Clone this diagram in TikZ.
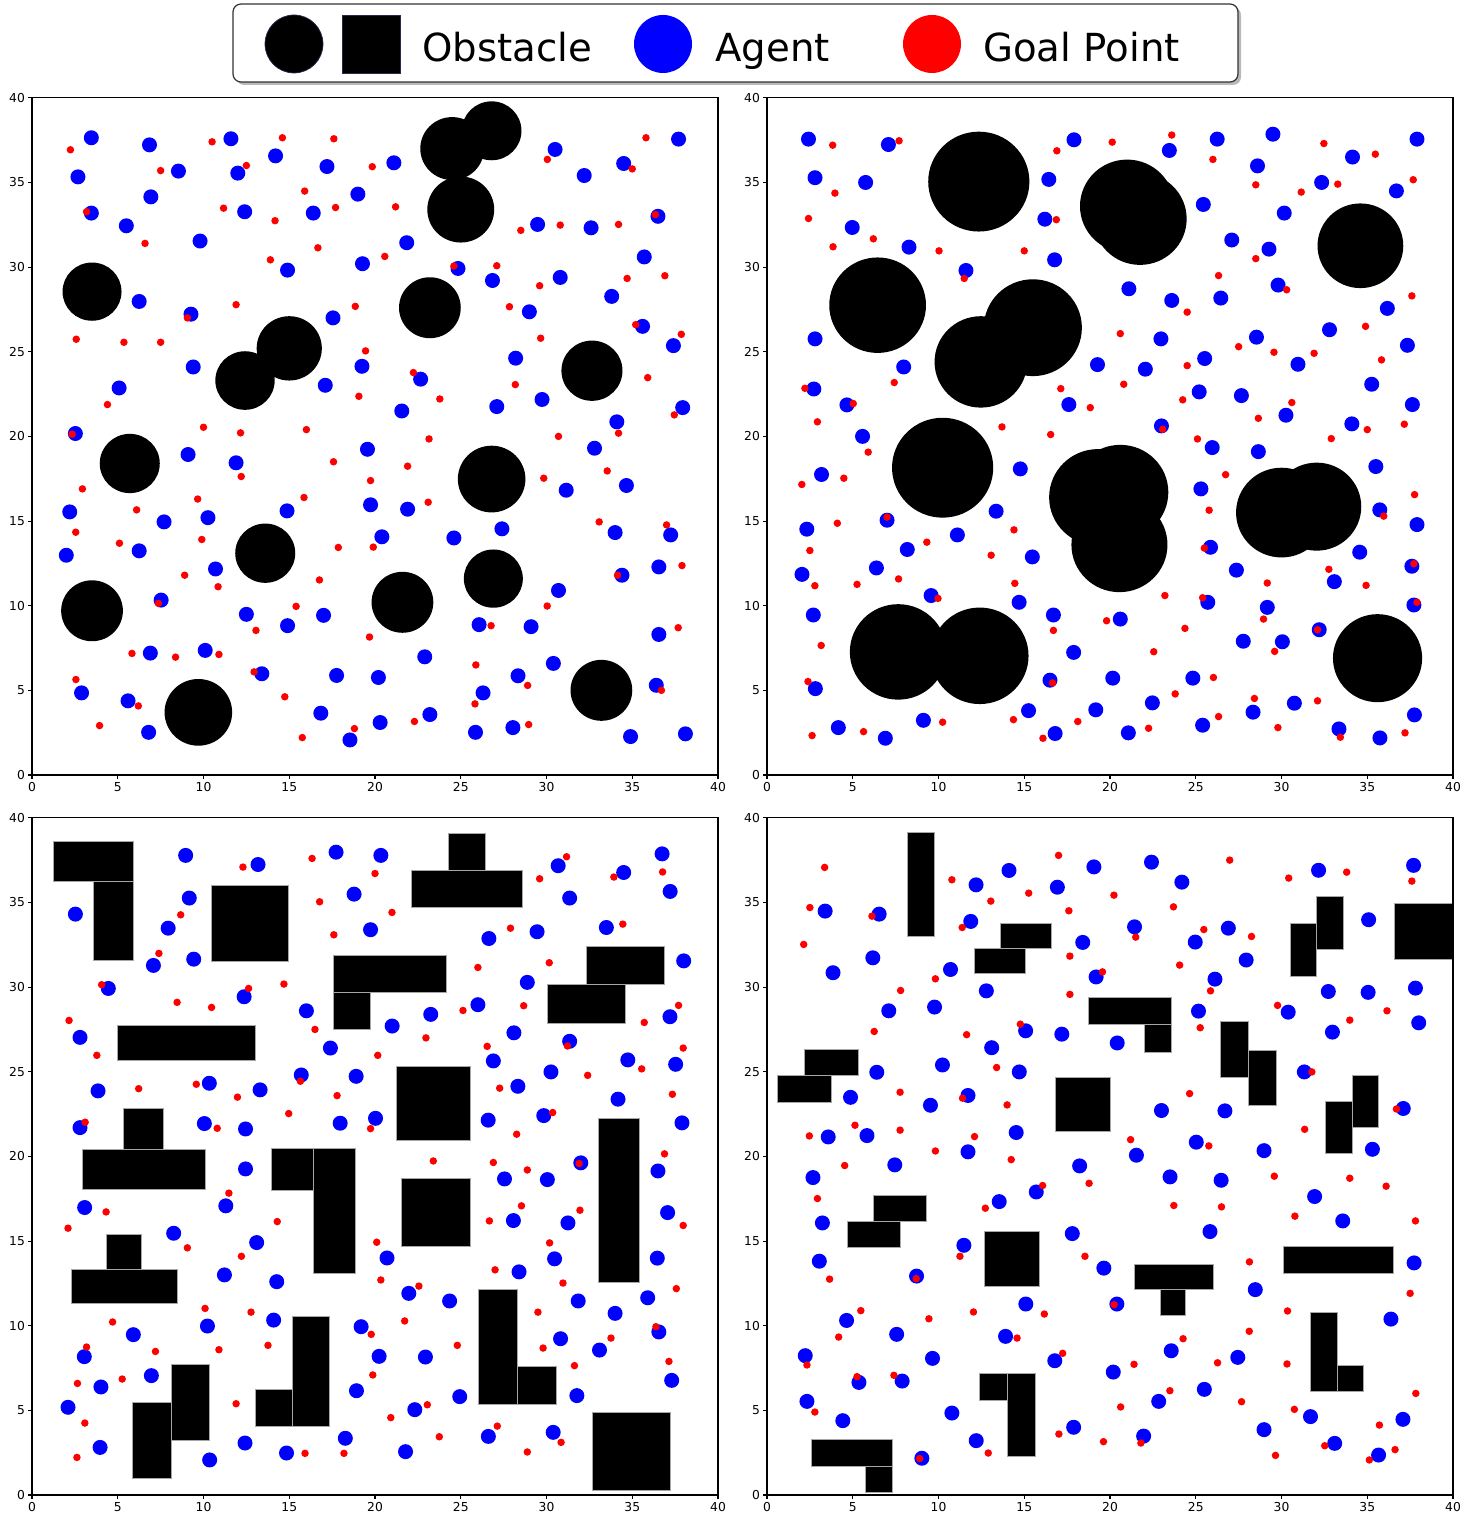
\documentclass[tikz,border=0pt]{standalone}
\usepackage{fontspec}
\setmainfont{DejaVu Sans}
\definecolor{legendedge}{RGB}{40,40,80}
\newcommand{\panelframe}{%
  \draw[axisline] (0,0) rectangle (40,40);
  \foreach \t in {0,5,...,40} {
    \draw[axisline] (\t,0) -- ++(0,-0.08cm) node[below, ticklabel] {\t};
    \draw[axisline] (0,\t) -- ++(-0.08cm,0) node[left, ticklabel] {\t};
  }}

\begin{document}
\begin{tikzpicture}[
  agent/.style={fill=blue},
  goal/.style={fill=red},
  obstacle/.style={fill=black},
  block/.style={fill=black, draw=gray!70, line width=0.4pt},
  axisline/.style={line width=0.6pt},
  ticklabel/.style={font=\fontsize{7}{8}\selectfont, inner sep=1.5pt},
  legendtext/.style={font=\fontsize{22}{26}\selectfont, anchor=base west, inner sep=0pt},
  panel/.style={x=0.343cm, y=0.3386cm}]
  \useasboundingbox (0,0) rectangle (29.44,30.48);

  \fill[gray!55, rounded corners=0.16cm] (4.72,28.78) rectangle (24.82,30.34);
  \draw[fill=white, draw=black!80, line width=0.7pt, rounded corners=0.16cm] (4.66,28.84) rectangle (24.76,30.40);
  \filldraw[fill=black, draw=legendedge] (5.88,29.6) circle[radius=0.58cm];
  \filldraw[fill=black, draw=legendedge] (6.84,29.02) rectangle (8.0,30.18);
  \node[legendtext] (obstaclelabel) at (8.44,29.24) {Obstacle};
  \fill[blue] (13.26,29.6) circle[radius=0.58cm];
  \node[legendtext] (agentlabel) at (14.3,29.24) {Agent};
  \fill[red] (18.64,29.6) circle[radius=0.58cm];
  \node[legendtext] (goallabel) at (19.66,29.24) {Goal Point};

  \begin{scope}[shift={(0.64cm,14.98cm)}, panel]
    \foreach \x/\y/\r in {24.5/37.0/1.86, 26.8/38.05/1.74, 25.0/33.4/1.95, 3.5/28.55/1.72, 23.2/27.6/1.8,
      15.0/25.2/1.9, 12.42/23.3/1.73, 32.65/23.88/1.78, 5.7/18.4/1.75, 26.8/17.48/1.97, 13.6/13.1/1.75,
      26.9/11.6/1.72, 3.5/9.7/1.8, 21.6/10.2/1.8, 33.2/5.0/1.8, 9.7/3.7/1.97}
      \fill[obstacle] (\x,\y) circle[radius=\r];
    \foreach \x/\y in {3.46/37.64, 6.85/37.22, 11.6/37.58, 14.2/36.57, 17.2/35.94, 21.1/36.16, 30.5/36.95,
      34.5/36.12, 37.7/37.56, 2.68/35.33, 8.54/35.67, 12.0/35.55, 32.2/35.41, 6.93/34.15, 3.46/33.19,
      5.5/32.44, 12.4/33.27, 16.4/33.19, 19.0/34.31, 9.8/31.54, 21.85/31.44, 14.9/29.82, 19.27/30.2,
      24.84/29.92, 26.85/29.21, 29.0/27.36, 30.8/29.39, 33.8/28.27, 35.7/30.6, 29.48/32.52, 32.6/32.32,
      36.5/33.0, 6.25/27.97, 9.27/27.22, 17.55/27.0, 35.6/26.5, 37.4/25.36, 28.2/24.62, 9.4/24.1,
      19.24/24.14, 5.08/22.86, 17.1/23.02, 22.66/23.38, 29.74/22.18, 27.1/21.76, 21.56/21.5, 37.94/21.7,
      34.1/20.86, 2.53/20.17, 9.1/18.93, 11.9/18.44, 19.56/19.24, 32.8/19.3, 34.66/17.1, 31.15/16.82,
      2.2/15.54, 7.7/14.95, 10.26/15.2, 14.87/15.6, 19.74/15.96, 21.9/15.7, 27.4/14.54, 34.0/14.32,
      37.24/14.18, 20.4/14.07, 24.6/14.0, 2.0/12.98, 6.25/13.24, 10.7/12.17, 36.55/12.29, 34.4/11.8,
      30.7/10.9, 7.53/10.33, 12.5/9.49, 14.9/8.82, 17.0/9.43, 26.07/8.88, 29.1/8.76, 36.55/8.3, 6.9/7.2,
      10.1/7.36, 22.9/6.98, 30.4/6.59, 13.4/5.98, 17.76/5.88, 20.2/5.76, 28.34/5.86, 2.89/4.85, 5.6/4.38,
      26.3/4.85, 36.4/5.3, 16.84/3.65, 23.2/3.57, 20.3/3.1, 6.8/2.52, 18.54/2.07, 25.86/2.52, 28.04/2.8,
      34.9/2.27, 38.1/2.43}
      \fill[agent] (\x,\y) circle[radius=0.15cm];
    \foreach \x/\y in {2.24/36.93, 10.5/37.4, 14.6/37.64, 17.6/37.58, 35.8/37.64, 7.5/35.7, 12.5/36.0,
      19.84/35.93, 30.05/36.36, 35.0/35.8, 15.9/34.49, 11.17/33.48, 17.7/33.52, 21.2/33.56, 14.17/32.74,
      28.5/32.17, 30.8/32.48, 34.2/32.52, 6.59/31.4, 16.67/31.14, 20.57/30.63, 13.9/30.43, 27.1/30.08,
      29.6/28.9, 34.7/29.33, 36.9/29.49, 11.9/27.78, 18.85/27.68, 27.84/27.66, 3.18/33.27, 24.6/30.06,
      36.35/33.1, 9.06/27.0, 35.2/26.6, 2.58/25.74, 5.36/25.56, 7.5/25.56, 37.86/26.03, 29.66/25.8,
      19.45/25.05, 22.24/23.77, 28.18/23.06, 35.9/23.47, 19.06/22.37, 23.78/22.21, 4.4/21.88, 37.45/21.27,
      34.2/20.19, 2.34/20.13, 10.0/20.54, 12.16/20.21, 16.0/20.4, 23.15/19.85, 30.7/20.0, 17.58/18.5,
      21.9/18.24, 33.54/17.96, 12.2/17.63, 19.74/17.39, 29.84/17.53, 2.94/16.9, 9.66/16.3, 15.86/16.39,
      23.1/16.11, 6.1/15.66, 33.07/14.95, 37.0/14.77, 2.55/14.34, 5.1/13.69, 9.9/13.91, 17.86/13.44,
      19.9/13.46, 37.9/12.37, 8.9/11.8, 16.76/11.52, 10.85/11.12, 15.4/9.96, 30.04/9.98, 13.06/8.54,
      26.77/8.82, 37.68/8.7, 19.68/8.15, 5.83/7.18, 8.37/6.96, 10.9/7.12, 25.88/6.5, 2.56/5.64, 12.95/6.09,
      28.9/5.29, 14.74/4.62, 6.2/4.08, 25.83/4.2, 3.94/2.92, 18.8/2.74, 22.3/3.16, 28.96/2.98, 15.76/2.21,
      34.14/11.8, 7.37/10.14, 36.7/5.0}
      \fill[goal] (\x,\y) circle[radius=0.075cm];
    \panelframe
  \end{scope}

  \begin{scope}[shift={(15.34cm,14.98cm)}, panel]
    \foreach \x/\y/\r in {12.35/35.05/2.95, 21.0/33.6/2.75, 21.75/32.85/2.72, 34.6/31.26/2.5, 6.45/27.75/2.82,
      15.5/26.42/2.86, 12.47/24.4/2.7, 10.24/18.15/2.95, 19.3/16.4/2.85, 20.6/16.7/2.8, 20.55/13.6/2.8,
      30.0/15.5/2.65, 32.05/15.85/2.6, 7.65/7.27/2.82, 12.4/7.04/2.85, 35.6/6.9/2.6}
      \fill[obstacle] (\x,\y) circle[radius=\r];
    \foreach \x/\y in {2.42/37.56, 7.08/37.24, 17.9/37.52, 23.46/36.89, 26.25/37.56, 29.5/37.85, 37.9/37.56,
      2.8/35.28, 5.75/35.0, 16.43/35.18, 28.6/35.98, 32.34/35.0, 34.14/36.5, 36.7/34.5, 25.44/33.7,
      30.16/33.19, 16.2/32.83, 4.97/32.34, 8.28/31.18, 16.77/30.43, 11.6/29.8, 27.1/31.6, 29.27/31.06,
      21.1/28.72, 23.6/28.03, 26.46/28.17, 29.8/28.94, 36.17/27.56, 32.8/26.3, 2.8/25.76, 22.97/25.76,
      28.54/25.86, 37.34/25.38, 7.97/24.1, 19.27/24.24, 22.06/23.97, 25.52/24.6, 30.96/24.26, 35.26/23.08,
      2.73/22.8, 4.66/21.86, 17.6/21.88, 25.2/22.63, 27.66/22.41, 37.63/21.88, 30.26/21.25, 34.1/20.74,
      23.0/20.62, 5.57/20.0, 25.96/19.34, 28.65/19.1, 3.18/17.75, 14.77/18.08, 35.5/18.22, 25.3/16.9,
      13.36/15.58, 35.73/15.66, 37.9/14.79, 7.0/15.05, 2.32/14.52, 11.1/14.18, 8.18/13.32, 15.47/12.88,
      25.86/13.45, 34.56/13.16, 2.04/11.85, 6.38/12.23, 27.37/12.1, 33.08/11.42, 37.6/12.33, 9.57/10.6,
      2.7/9.45, 14.7/10.2, 16.7/9.45, 20.6/9.21, 25.7/10.2, 29.17/9.9, 37.72/10.04, 32.2/8.58, 17.88/7.24,
      27.77/7.9, 30.05/7.87, 2.82/5.1, 16.5/5.6, 20.16/5.72, 24.83/5.72, 22.47/4.26, 30.75/4.24, 28.34/3.71,
      15.25/3.8, 19.17/3.85, 9.12/3.23, 4.16/2.8, 6.9/2.17, 16.8/2.45, 21.07/2.49, 25.4/2.94, 33.35/2.72,
      35.74/2.19, 37.75/3.55}
      \fill[agent] (\x,\y) circle[radius=0.15cm];
    \foreach \x/\y in {3.83/37.2, 7.7/37.46, 16.9/36.87, 20.13/37.38, 23.6/37.8, 32.47/37.3, 35.47/36.67,
      26.0/36.36, 3.96/34.37, 28.5/34.86, 31.15/34.43, 33.28/34.9, 37.68/35.16, 2.42/32.87, 6.2/31.67,
      3.85/31.2, 10.03/30.96, 15.0/30.96, 28.5/30.5, 26.33/29.5, 24.5/27.34, 37.6/28.3, 34.9/26.5,
      16.87/32.8, 11.5/29.33, 30.3/28.66, 20.6/26.07, 27.5/25.3, 29.56/24.97, 31.9/24.91, 35.83/24.52,
      24.5/24.18, 7.42/23.18, 17.13/22.82, 20.8/23.08, 18.85/21.7, 24.24/22.16, 30.6/22.0, 28.65/21.07,
      2.94/20.86, 13.7/20.56, 16.54/20.11, 25.1/19.85, 32.9/19.87, 35.0/20.4, 37.16/20.72, 5.9/19.07,
      4.48/17.53, 2.03/17.16, 26.74/17.74, 37.76/16.56, 25.78/15.64, 4.1/14.87, 14.4/14.48, 9.32/13.75,
      2.5/13.26, 13.07/12.98, 2.21/22.84, 5.03/21.94, 23.07/20.42, 35.96/15.29, 7.0/15.23, 25.5/13.4,
      2.79/11.18, 5.25/11.26, 7.67/11.58, 14.45/11.32, 29.17/11.34, 32.76/12.15, 34.93/11.2, 23.2/10.6,
      16.7/8.54, 19.8/9.11, 24.37/8.66, 28.95/9.21, 3.16/7.65, 22.55/7.28, 29.6/7.3, 26.03/5.76, 23.8/4.79,
      28.42/4.52, 32.1/4.38, 26.33/3.45, 10.24/3.12, 14.37/3.27, 18.12/3.16, 2.63/2.33, 5.63/2.56,
      16.09/2.17, 22.25/2.76, 29.79/2.8, 37.2/2.49, 37.72/12.48, 9.97/10.43, 25.4/10.47, 37.9/10.2,
      32.1/8.58, 2.39/5.52, 16.65/5.44, 33.43/2.23}
      \fill[goal] (\x,\y) circle[radius=0.075cm];
    \panelframe
  \end{scope}

  \begin{scope}[shift={(0.64cm,0.58cm)}, panel]
    \foreach \xa/\ya/\xb/\yb in {1.25/36.24/5.9/38.58, 3.57/31.57/5.9/36.24, 10.47/31.5/14.97/36.02,
      24.3/36.89/26.43/39.06, 22.1/34.74/28.6/36.89, 17.55/29.68/24.14/31.89, 17.55/27.48/19.74/29.68,
      32.34/30.14/36.9/32.42, 30.05/27.83/34.6/30.14, 4.97/25.68/13.05/27.72, 21.22/20.97/25.57/25.34,
      5.34/20.44/7.68/22.83, 2.92/18.06/10.08/20.44, 13.96/18.0/16.43/20.46, 16.43/13.1/18.88/20.46,
      21.54/14.7/25.57/18.7, 33.0/12.58/35.4/22.23, 4.32/13.32/6.38/15.38, 2.27/11.3/8.45/13.32,
      5.86/0.96/8.1/5.47, 8.12/3.23/10.36/7.72, 13.0/4.07/15.17/6.22, 15.17/4.07/17.33/10.53,
      26.05/5.37/28.29/12.15, 28.29/5.37/30.55/7.62, 32.66/0.3/37.25/4.88}
      \filldraw[block] (\xa,\ya) rectangle (\xb,\yb);
    \foreach \x/\y in {8.96/37.78, 13.18/37.24, 17.73/37.97, 20.34/37.78, 30.68/37.17, 34.5/36.77,
      36.74/37.87, 37.21/35.65, 31.35/35.26, 9.17/35.26, 2.53/34.31, 18.78/35.49, 7.94/33.48, 19.74/33.39,
      26.64/32.87, 29.45/33.27, 33.49/33.52, 9.43/31.65, 7.08/31.28, 38.0/31.55, 4.45/29.92, 12.37/29.43,
      28.88/30.28, 16.0/28.6, 23.25/28.39, 26.0/28.96, 37.2/28.25, 2.8/27.03, 21.0/27.7, 28.1/27.3,
      31.35/26.8, 17.4/26.4, 26.9/25.64, 30.26/24.99, 34.74/25.7, 37.53/25.44, 28.33/24.14, 34.17/23.38,
      3.85/23.87, 10.34/24.32, 13.3/23.93, 15.7/24.81, 18.9/24.73, 2.8/21.7, 10.05/21.94, 12.45/21.62,
      17.97/21.96, 20.03/22.25, 26.6/22.14, 29.84/22.41, 37.9/21.98, 12.45/19.26, 32.0/19.62, 27.55/18.67,
      30.05/18.63, 36.5/19.14, 3.07/16.98, 11.3/17.08, 28.07/16.21, 31.25/16.07, 37.06/16.68, 8.26/15.46,
      13.1/14.91, 20.7/14.0, 30.47/13.95, 36.46/13.99, 11.22/13.0, 28.4/13.18, 14.27/12.6, 21.97/11.91,
      24.35/11.46, 31.85/11.46, 35.9/11.65, 34.0/10.73, 36.55/9.63, 30.82/9.23, 33.09/8.56, 10.23/9.98,
      14.09/10.33, 19.19/9.94, 5.91/9.47, 3.05/8.17, 20.24/8.19, 22.94/8.15, 6.96/7.05, 4.02/6.38,
      18.92/6.16, 24.94/5.81, 31.77/5.87, 37.3/6.77, 2.1/5.18, 22.32/5.04, 3.97/2.81, 10.36/2.07,
      12.42/3.07, 14.84/2.48, 18.27/3.35, 21.78/2.56, 26.61/3.46, 30.39/3.7}
      \fill[agent] (\x,\y) circle[radius=0.15cm];
    \foreach \x/\y in {12.3/37.09, 16.33/37.6, 20.0/36.71, 31.17/37.7, 29.6/36.4, 33.93/36.5, 36.77/36.8,
      16.77/35.04, 8.67/34.27, 20.99/34.41, 17.6/33.09, 27.9/33.48, 34.45/33.72, 7.4/31.99, 26.0/31.16,
      30.16/31.44, 14.69/30.18, 8.46/29.1, 10.47/28.8, 16.5/27.5, 25.13/28.62, 28.67/28.9, 37.7/28.92,
      2.16/28.03, 35.7/27.91, 22.97/27.0, 26.54/26.5, 37.97/26.4, 4.06/30.14, 12.63/29.92, 31.22/26.52,
      3.78/25.97, 20.16/25.97, 35.55/25.17, 32.4/24.79, 6.22/24.0, 9.58/24.26, 11.98/23.5, 17.79/23.59,
      27.27/24.03, 37.34/23.67, 14.97/22.53, 10.8/21.66, 19.74/21.64, 28.26/21.31, 23.4/19.73, 26.9/19.64,
      28.88/19.2, 36.88/20.15, 11.48/17.83, 28.54/17.08, 31.95/16.82, 4.32/16.72, 2.1/15.76, 14.3/16.15,
      26.67/16.19, 37.97/15.92, 9.06/14.6, 20.1/14.93, 30.18/14.89, 12.21/14.1, 27.0/13.3, 20.34/12.7,
      15.65/24.44, 3.1/22.02, 30.36/22.59, 31.9/19.58, 22.56/12.34, 30.96/12.52, 37.57/12.19, 10.09/11.02,
      12.77/10.8, 29.5/10.8, 4.7/10.22, 21.73/10.28, 19.78/9.49, 7.2/8.48, 10.9/8.58, 13.76/8.84, 24.8/8.84,
      29.8/8.68, 33.76/9.27, 37.14/7.89, 2.65/6.59, 5.26/6.85, 19.87/7.09, 31.63/7.64, 11.9/5.39,
      23.05/5.33, 3.08/4.25, 20.92/4.57, 23.75/3.44, 27.13/4.07, 30.85/3.11, 2.62/2.22, 15.92/2.46,
      18.19/2.46, 28.88/2.54, 36.38/9.94, 3.18/8.74}
      \fill[goal] (\x,\y) circle[radius=0.075cm];
    \panelframe
  \end{scope}

  \begin{scope}[shift={(15.34cm,0.58cm)}, panel]
    \foreach \xa/\ya/\xb/\yb in {8.2/33.0/9.74/39.13, 13.6/32.28/16.59/33.78, 12.08/30.79/15.08/32.28,
      18.72/27.78/23.6/29.37, 21.98/26.13/23.6/27.78, 26.43/24.66/28.05/27.97, 28.05/23.0/29.7/26.29,
      30.5/30.65/32.06/33.78, 32.06/32.22/33.62/35.35, 36.6/31.63/39.95/34.94, 2.2/24.79/5.3/26.33,
      0.63/23.22/3.75/24.79, 16.8/21.47/20.0/24.66, 34.14/21.72/35.65/24.81, 32.58/20.17/34.14/23.26,
      6.22/16.15/9.32/17.71, 4.66/14.6/7.79/16.15, 12.66/12.32/15.9/15.6, 21.43/12.13/26.0/13.63,
      22.95/10.59/24.42/12.13, 30.1/13.1/36.5/14.7, 31.7/6.14/33.24/10.79, 33.24/6.14/34.8/7.68,
      12.36/5.57/14.0/7.2, 14.0/2.26/15.66/7.2, 2.57/1.71/7.32/3.31, 5.74/0.16/7.32/1.71}
      \filldraw[block] (\xa,\ya) rectangle (\xb,\yb);
    \foreach \x/\y in {14.11/36.89, 19.06/37.1, 22.42/37.38, 24.19/36.2, 12.19/36.04, 16.93/35.9,
      32.16/36.9, 37.7/37.19, 3.39/34.49, 6.54/34.31, 11.88/33.88, 21.43/33.56, 18.41/32.64, 24.97/32.66,
      26.9/33.48, 35.08/33.98, 6.17/31.73, 3.85/30.85, 10.7/31.04, 19.19/30.6, 27.94/31.6, 26.12/30.47,
      12.79/29.78, 32.73/29.74, 35.05/29.69, 37.81/29.94, 7.1/28.6, 9.77/28.82, 25.16/28.58, 30.39/28.52,
      15.08/27.42, 17.19/27.22, 32.97/27.34, 38.0/27.89, 13.1/26.42, 20.42/26.7, 6.4/24.97, 10.23/25.4,
      14.71/24.99, 31.33/24.99, 4.87/23.49, 9.53/23.02, 11.72/23.6, 23.0/22.71, 26.7/22.69, 37.1/22.83,
      3.57/21.15, 5.83/21.23, 14.53/21.41, 25.03/20.84, 28.98/20.34, 35.3/20.42, 11.72/20.27, 21.54/20.07,
      7.45/19.5, 18.23/19.44, 2.68/18.75, 23.5/18.79, 26.48/18.59, 15.7/17.9, 13.54/17.33, 31.93/17.63,
      3.23/16.07, 33.57/16.19, 17.8/15.44, 25.83/15.56, 11.48/14.75, 3.05/13.81, 19.64/13.4, 37.73/13.71,
      8.72/12.93, 28.47/12.13, 15.09/11.28, 20.4/11.28, 4.64/10.31, 36.38/10.39, 7.56/9.49, 13.91/9.37,
      2.23/8.23, 9.65/8.07, 16.78/7.93, 23.57/8.52, 27.45/8.13, 20.19/7.26, 5.36/6.65, 7.88/6.73,
      25.5/6.24, 2.33/5.53, 10.78/4.84, 22.84/5.53, 4.42/4.39, 31.69/4.63, 37.08/4.47, 17.88/4.0,
      21.96/3.48, 28.98/3.86, 12.2/3.21, 33.1/3.05, 9.03/2.17, 35.66/2.36}
      \fill[agent] (\x,\y) circle[radius=0.15cm];
    \foreach \x/\y in {3.36/37.07, 17.0/37.78, 26.98/37.5, 33.8/36.79, 30.42/36.44, 37.6/36.26, 10.78/36.34,
      15.26/35.55, 13.05/35.08, 20.23/35.43, 2.5/34.7, 17.6/34.51, 23.7/34.74, 25.47/33.4, 28.25/32.99,
      2.14/32.52, 17.66/31.83, 24.06/31.3, 9.82/30.49, 7.79/29.8, 17.66/29.57, 25.86/29.78, 29.77/28.92,
      36.15/28.6, 33.98/28.05, 6.25/27.38, 11.64/27.19, 25.26/27.6, 6.12/34.19, 11.38/33.52, 21.5/32.95,
      19.56/30.9, 14.77/27.81, 13.39/25.25, 7.76/23.79, 14.0/23.04, 24.64/23.71, 5.13/21.84, 2.47/21.21,
      7.76/21.55, 12.1/21.17, 21.2/20.99, 25.76/20.62, 31.35/21.6, 9.82/20.32, 14.24/19.81, 4.53/19.46,
      18.78/18.41, 29.58/18.83, 33.98/18.71, 36.1/18.24, 2.94/17.51, 23.72/17.1, 26.5/17.02, 12.73/16.94,
      30.78/16.47, 37.81/16.19, 11.25/14.1, 18.54/14.1, 28.13/13.77, 3.65/12.75, 31.77/24.99, 11.4/23.44,
      36.7/22.8, 16.07/18.28, 8.7/12.78, 5.47/10.89, 9.44/10.41, 12.04/10.81, 16.17/10.69, 30.35/10.87,
      37.5/11.91, 4.18/9.33, 24.26/9.23, 28.12/9.67, 21.4/7.72, 26.27/7.81, 30.32/7.74, 7.4/7.07,
      23.49/6.16, 37.83/6.0, 2.79/4.9, 20.62/5.2, 27.67/5.51, 30.75/5.06, 35.71/4.13, 17.02/3.6,
      19.62/3.15, 29.65/2.34, 36.62/2.68, 12.9/2.48, 20.24/11.24, 14.58/9.27, 2.33/7.68, 17.24/8.37,
      5.25/6.99, 21.8/3.07, 32.52/2.91, 8.9/2.15, 35.12/2.07}
      \fill[goal] (\x,\y) circle[radius=0.075cm];
    \panelframe
  \end{scope}
\end{tikzpicture}
\end{document}
